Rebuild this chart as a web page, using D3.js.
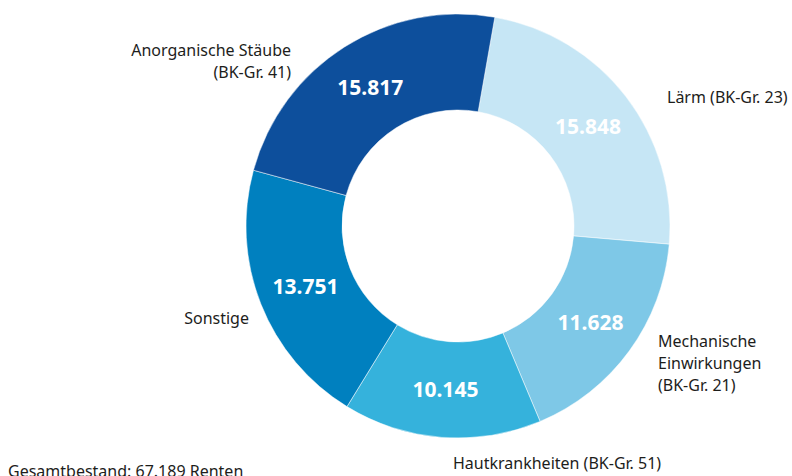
<!DOCTYPE html>
<html>
<head>
<meta charset="utf-8">
<script src="https://cdn.jsdelivr.net/npm/d3@7"></script>
<style>
  body { margin: 0; background: #fff; }
  svg { display: block; font-family: "Noto Sans", sans-serif; }
</style>
</head>
<body>
<div id="chart"></div>
<script>
// Renten nach BK-Gruppen
var categories = ['Lärm', 'Mechanische Einwirkungen', 'Hautkrankheiten', 'Sonstige', 'Anorganische Stäube'];
var values = [15848, 11628, 10145, 13751, 15817];
var labelLines = [
  ['Lärm (BK-Gr. 23)'],
  ['Mechanische', 'Einwirkungen', '(BK-Gr. 21)'],
  ['Hautkrankheiten (BK-Gr. 51)'],
  ['Sonstige'],
  ['Anorganische Stäube', '(BK-Gr. 41)']
];
var colorList = ['#c6e6f5', '#7ec8e7', '#35b2dc', '#0080bf', '#0d4f9c'];
var totalText = 'Gesamtbestand: 67.189 Renten';

var width = 792, height = 476,
  cx = 458, cy = 226,
  outerR = 212, innerR = 116,
  startAngle = 10 * Math.PI / 180;

var fmt = d3.formatLocale({ decimal: ',', thousands: '.', grouping: [3] }).format(',d');

var svg = d3.select('#chart')
  .append('svg')
  .attr('width', width)
  .attr('height', height);

var g = svg.append('g')
  .attr('transform', 'translate(' + cx + ',' + cy + ')');

var pie = d3.pie()
  .sort(null)
  .value(function (d) { return d; })
  .startAngle(startAngle)
  .endAngle(startAngle + 2 * Math.PI);

var arc = d3.arc()
  .innerRadius(innerR)
  .outerRadius(outerR);

var arcs = pie(values);

g.selectAll('path')
  .data(arcs)
  .enter()
  .append('path')
  .attr('d', arc)
  .style('fill', function (d, i) { return colorList[i]; })
  .style('stroke', '#fff')
  .style('stroke-width', 0.5);

g.selectAll('text.val')
  .data(arcs)
  .enter()
  .append('text')
  .attr('class', 'val')
  .attr('transform', function (d) { return 'translate(' + arc.centroid(d) + ')'; })
  .attr('text-anchor', 'middle')
  .attr('dy', '0.36em')
  .style('fill', '#fff')
  .style('font-weight', 700)
  .style('font-size', '21px')
  .text(function (d) { return fmt(d.data); });

// outer category labels: anchor position in px relative to svg
var labelPos = [
  { x: 667, y: 103, anchor: 'start' },
  { x: 658, y: 347, anchor: 'start' },
  { x: 453, y: 469, anchor: 'start' },
  { x: 249, y: 324, anchor: 'end' },
  { x: 291, y: 56, anchor: 'end' }
];

svg.selectAll('text.cat')
  .data(labelLines)
  .enter()
  .append('text')
  .attr('class', 'cat')
  .attr('x', function (d, i) { return labelPos[i].x; })
  .attr('y', function (d, i) { return labelPos[i].y; })
  .attr('text-anchor', function (d, i) { return labelPos[i].anchor; })
  .style('fill', '#1d1d1b')
  .style('font-size', '16px')
  .each(function (lines, i) {
    var t = d3.select(this);
    lines.forEach(function (line, j) {
      t.append('tspan')
        .attr('x', labelPos[i].x)
        .attr('dy', j === 0 ? 0 : 22)
        .text(line);
    });
  });

svg.append('text')
  .attr('x', 8)
  .attr('y', 477)
  .style('fill', '#1d1d1b')
  .style('font-size', '16px')
  .text(totalText);
</script>
</body>
</html>
